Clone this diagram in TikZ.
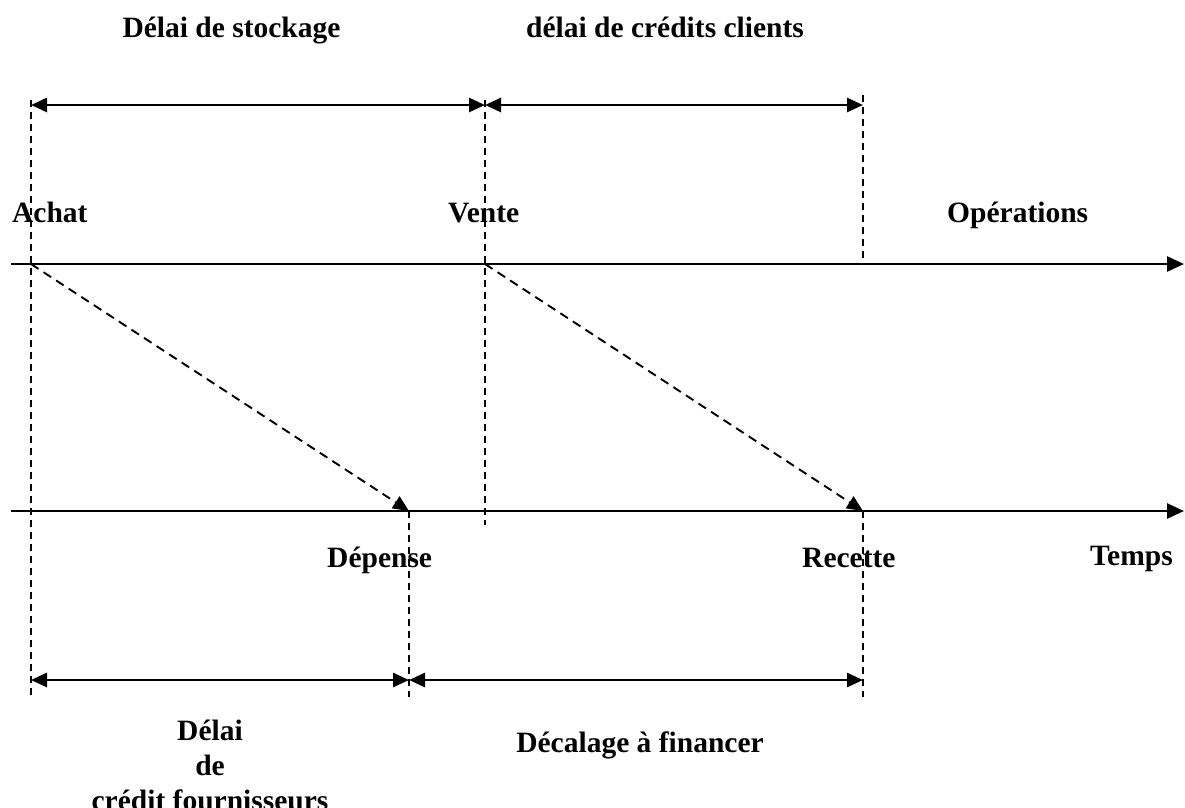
\documentclass[tikz,border=0pt]{standalone}
\usepackage{fontspec}
\setmainfont{Liberation Serif}
\usetikzlibrary{arrows.meta}
\begin{document}
\begin{tikzpicture}[x=1pt,y=-1pt,
  lbl/.style={font=\fontsize{29.5}{35}\selectfont\bfseries, inner sep=0pt},
  axisline/.style={line width=2.7pt, -{Triangle[length=17pt,width=15pt]}},
  span/.style={line width=2.7pt, {Triangle[length=16pt,width=14pt]}-{Triangle[length=16pt,width=14pt]}},
  guide/.style={line width=1.9pt, dash pattern=on 7pt off 5pt},
  flow/.style={line width=1.9pt, dash pattern=on 9pt off 6pt, -{Triangle[length=16pt,width=14pt]}},
]
\useasboundingbox (0,0) rectangle (1185,807);

% key points
\coordinate (achatTop) at (31,100);
\coordinate (achatAx) at (31,264);
\coordinate (achatBot) at (31,697);
\coordinate (venteTop) at (485,100);
\coordinate (venteAx) at (485,264);
\coordinate (venteBot) at (485,525);
\coordinate (credTop) at (863,95);
\coordinate (credAx) at (863,264);
\coordinate (recAx) at (863,511);
\coordinate (recBot) at (863,697);
\coordinate (depAx) at (409,511);
\coordinate (depBot) at (409,697);

\coordinate (sL) at (31,105);
\coordinate (sM) at (485,105);
\coordinate (sR) at (863,105);
\coordinate (bL) at (31,680);
\coordinate (bM) at (409,680);
\coordinate (bR) at (863,680);

\coordinate (ax1s) at (11,264);
\coordinate (ax1e) at (1184,264);
\coordinate (ax2s) at (11,511);
\coordinate (ax2e) at (1184,511);

% guides
\draw[guide] (achatTop) -- (achatBot);
\draw[guide] (venteTop) -- (venteBot);
\draw[guide] (credTop) -- (credAx);
\draw[guide] (recAx) -- (recBot);
\draw[guide] (depAx) -- (depBot);

% axes
\draw[axisline] (ax1s) -- (ax1e);
\draw[axisline] (ax2s) -- (ax2e);

% flows
\draw[flow] (achatAx) -- (depAx);
\draw[flow] (venteAx) -- (recAx);

% spans
\draw[span] (sL) -- (sM);
\draw[span] (sM) -- (sR);
\draw[span] (bL) -- (bM);
\draw[span] (bM) -- (bR);

% labels
\node[lbl, anchor=base] (tStock) at (231.5,37) {Délai de stockage};
\node[lbl, anchor=base] (tCred) at (665,37) {délai de crédits clients};
\node[lbl, anchor=base west] (tAchat) at (12,222) {Achat};
\node[lbl, anchor=base west] (tVente) at (448,222) {Vente};
\node[lbl, anchor=base west] (tOps) at (947,222) {Opérations};
\node[lbl, anchor=base west] (tDep) at (327,567) {Dépense};
\node[lbl, anchor=base west] (tRec) at (802,567) {Recette};
\node[lbl, anchor=base west] (tTemps) at (1090,565) {Temps};
\node[lbl, anchor=base] (tD1) at (210,740) {Délai};
\node[lbl, anchor=base] (tD2) at (210,775) {de};
\node[lbl, anchor=base] (tD3) at (210,810) {crédit fournisseurs};
\node[lbl, anchor=base] (tDec) at (640,752) {Décalage à financer};
\end{tikzpicture}
\end{document}
